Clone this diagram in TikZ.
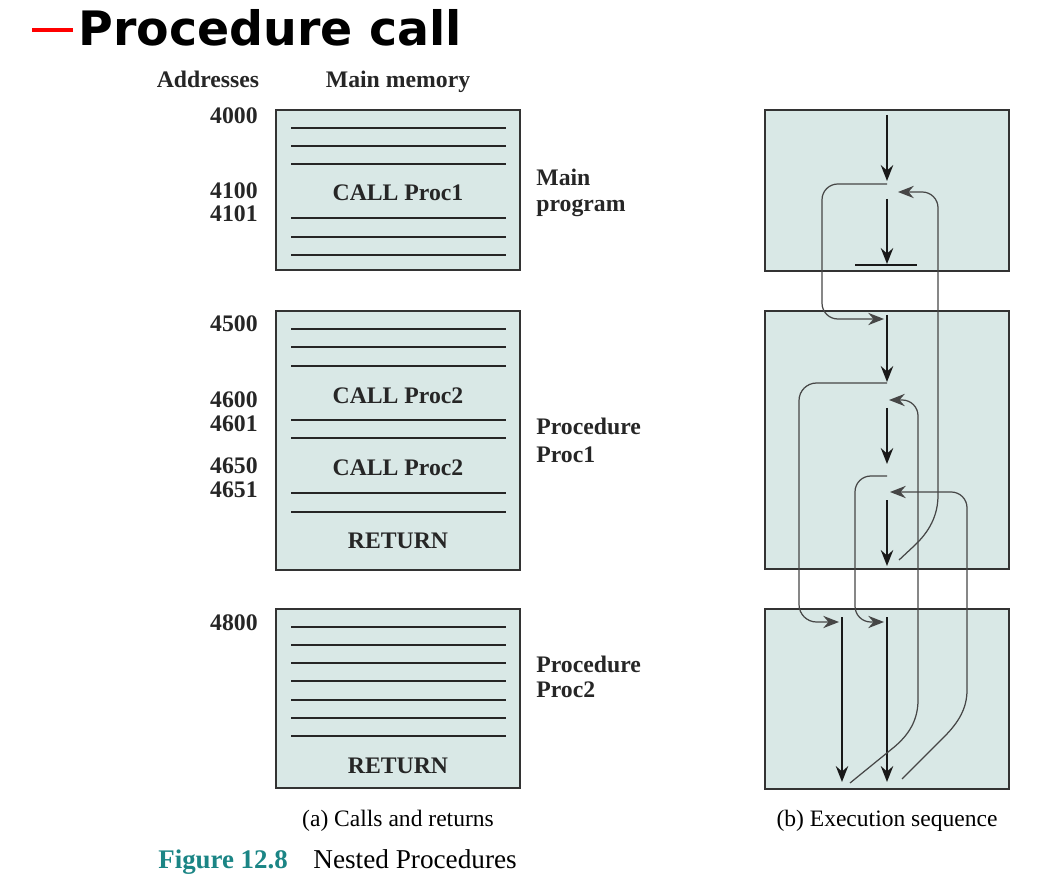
\documentclass[tikz,border=0pt]{standalone}
\usepackage{fontspec}
\setmainfont{Liberation Serif}
\newfontfamily\titlefont{DejaVu Sans}
\usetikzlibrary{arrows.meta}
\definecolor{memfill}{RGB}{217,232,230}
\definecolor{figteal}{RGB}{27,133,133}
\definecolor{linkgray}{RGB}{70,70,70}

\begin{document}
\begin{tikzpicture}[x=0.02cm,y=-0.02cm,
  mem box/.style={draw=black!80,line width=1.1pt,fill=memfill},
  mem line/.style={black!85,line width=0.8pt},
  lbl/.style={font=\fontsize{13.5}{14.8}\selectfont\bfseries,text=black!85,inner sep=0pt},
  addr/.style={lbl,anchor=base east},
  tip/.style={-{Stealth[length=9pt,width=7pt,inset=3pt]}},
  flow/.style={black!90,line width=1.3pt,tip},
  link/.style={linkgray,line width=0.7pt,tip}]

\useasboundingbox (0,0) rectangle (1064,881);

% title
\draw[red,line width=1.8pt] (32,30) -- (73,30);
\node[anchor=base west,inner sep=0pt,font=\titlefont\fontsize{27}{30}\selectfont\bfseries] (title) at (78,46) {Procedure call};

% (a) calls and returns
\node[lbl,anchor=base] (addrhead) at (208,88) {Addresses};
\node[lbl,anchor=base] (memhead) at (398,88) {Main memory};

\draw[mem box] (276,110) rectangle (520,270);
\draw[mem box] (276,311) rectangle (520,570);
\draw[mem box] (276,609) rectangle (520,788);

\foreach \y in {128,146,164,218,237,255,329,347,366,420,438,493,512,627,645,663,681,700,718,736}
  \draw[mem line] (291,\y) -- (506,\y);

\foreach \a/\y in {4000/124,4100/199,4101/222,4500/332,4600/408,4601/432,4650/473,4651/497,4800/630}
  \node[addr] (a\a) at (258,\y) {\a};

\node[lbl,anchor=base] (call1) at (398,201) {CALL Proc1};
\node[lbl,anchor=base] (call2a) at (398,403) {CALL Proc2};
\node[lbl,anchor=base] (call2b) at (398,475) {CALL Proc2};
\node[lbl,anchor=base] (ret1) at (398,548) {RETURN};
\node[lbl,anchor=base] (ret2) at (398,773) {RETURN};

\node[lbl,anchor=base west] (mainA) at (536,186) {Main};
\node[lbl,anchor=base west] (mainB) at (536,212) {program};
\node[lbl,anchor=base west] (procA) at (536,435) {Procedure};
\node[lbl,anchor=base west] (procB) at (536,462) {Proc1};
\node[lbl,anchor=base west] (procC) at (536,672) {Procedure};
\node[lbl,anchor=base west] (procD) at (536,697) {Proc2};

\node[anchor=base,inner sep=0pt,font=\fontsize{13.4}{15}\selectfont] (capa) at (398,826) {(a) Calls and returns};

% (b) execution sequence
\draw[mem box] (765,110) rectangle (1009,271);
\draw[mem box] (765,311) rectangle (1009,569);
\draw[mem box] (765,609) rectangle (1009,789);

\draw[flow] (887,115) -- (887,181);
\draw[flow] (887,199) -- (887,264);
\draw[black!90,line width=1.3pt] (855,265) -- (917,265);
\draw[flow] (887,315) -- (887,382);
\draw[flow] (887,408) -- (887,464);
\draw[flow] (887,500) -- (887,566);
\draw[flow] (842,617) -- (842,782);
\draw[flow] (887,617) -- (887,782);

% calls
\draw[link,rounded corners=9pt] (887,184) -- (822,184) -- (822,319) -- (884,319);
\draw[link,rounded corners=10pt] (887,383) -- (799,383) -- (799,622) -- (839,622);
\draw[link,rounded corners=9pt] (887,476) -- (855,476) -- (855,622) -- (884,622);

% returns
\draw[link] (899,560) -- (914,546) .. controls (929,532) and (938,516) .. (938,495)
  [rounded corners=9pt] -- (938,192) -- (898,192);
\draw[link] (850,783) -- (893,748) .. controls (909,735) and (918,720) .. (918,700)
  [rounded corners=9pt] -- (918,400) -- (889,400);
\draw[link] (902,779) -- (944,737) .. controls (959,722) and (967,708) .. (967,690)
  [rounded corners=9pt] -- (967,492) -- (890,492);

\node[anchor=base,inner sep=0pt,font=\fontsize{13.4}{15}\selectfont] (capb) at (887,826) {(b) Execution sequence};

% figure caption
\node[anchor=base west,inner sep=0pt,font=\fontsize{15.3}{17}\selectfont\bfseries,text=figteal] (fig) at (158,868) {Figure 12.8};
\node[anchor=base west,inner sep=0pt,font=\fontsize{15.5}{17}\selectfont] (figname) at (313,868) {Nested Procedures};

\end{tikzpicture}
\end{document}
